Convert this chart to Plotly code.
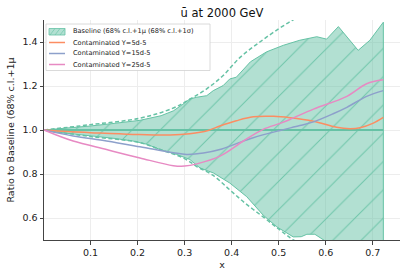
import plotly.graph_objects as go

# ---------------- data ----------------
band_upper_x = [0.001, 0.05, 0.099, 0.15, 0.205, 0.25, 0.276, 0.295, 0.311, 0.326, 0.347, 0.361,
                0.382, 0.396, 0.41, 0.44, 0.474, 0.51, 0.545, 0.581, 0.602, 0.627, 0.669, 0.694, 0.7226]
band_upper_y = [1.0, 1.008, 1.018, 1.03, 1.044, 1.065, 1.087, 1.115, 1.141, 1.149, 1.156, 1.179,
                1.202, 1.232, 1.24, 1.31, 1.355, 1.385, 1.408, 1.424, 1.413, 1.47, 1.362, 1.408, 1.49]
band_lower_x = [0.001, 0.05, 0.1, 0.15, 0.19, 0.22, 0.248, 0.283, 0.311, 0.333, 0.361, 0.396, 0.432,
                0.467, 0.496, 0.531, 0.548, 0.56, 0.577, 0.59, 0.61, 0.66, 0.7226]
band_lower_y = [1.0, 0.985, 0.972, 0.962, 0.95, 0.935, 0.911, 0.889, 0.866, 0.827, 0.805, 0.759, 0.697,
                0.613, 0.56, 0.514, 0.515, 0.526, 0.526, 0.506, 0.48, 0.46, 0.45]

sigma_upper_x = [0.001, 0.099, 0.205, 0.276, 0.311, 0.347, 0.382, 0.418, 0.46, 0.5, 0.53, 0.56]
sigma_upper_y = [1.0, 1.024, 1.054, 1.1, 1.14, 1.187, 1.248, 1.33, 1.40, 1.46, 1.5, 1.54]
sigma_lower_x = [0.001, 0.1, 0.2, 0.25, 0.3, 0.325, 0.36, 0.396, 0.43, 0.467, 0.5, 0.524, 0.54]
sigma_lower_y = [1.0, 0.97, 0.945, 0.91, 0.87, 0.835, 0.795, 0.728, 0.665, 0.605, 0.55, 0.511, 0.49]

ref_x = [0.001, 0.7226]
ref_y = [1.0, 1.0]

y5_x = [0.001, 0.05, 0.1, 0.19, 0.269, 0.311, 0.35, 0.375, 0.41, 0.446, 0.489, 0.524, 0.574,
        0.623, 0.652, 0.673, 0.7, 0.7226]
y5_y = [1.0, 0.993, 0.988, 0.98, 0.977, 0.983, 0.998, 1.018, 1.042, 1.06, 1.062, 1.056, 1.04,
        1.012, 1.006, 1.01, 1.03, 1.057]

y15_x = [0.001, 0.063, 0.134, 0.205, 0.276, 0.304, 0.34, 0.375, 0.41, 0.446, 0.503, 0.545, 0.574,
         0.617, 0.645, 0.687, 0.7226]
y15_y = [1.0, 0.973, 0.95, 0.924, 0.897, 0.889, 0.895, 0.911, 0.938, 0.965, 0.998, 1.02, 1.037,
         1.075, 1.103, 1.153, 1.179]

y25_x = [0.001, 0.03, 0.063, 0.134, 0.205, 0.276, 0.3, 0.326, 0.375, 0.425, 0.467, 0.503, 0.524,
         0.574, 0.645, 0.687, 0.7226]
y25_y = [1.0, 0.975, 0.95, 0.911, 0.873, 0.838, 0.836, 0.846, 0.881, 0.95, 1.003, 1.03, 1.048,
         1.095, 1.153, 1.21, 1.228]

legend_labels = ["Baseline (68% c.l.+1μ (68% c.l.+1σ)", "Contaminated Y=5d-5",
                 "Contaminated Y=15d-5", "Contaminated Y=25d-5"]
x_ticks = [0.1, 0.2, 0.3, 0.4, 0.5, 0.6, 0.7]
y_ticks = [0.6, 0.8, 1.0, 1.2, 1.4]

GREEN = "#66c2a5"
ORANGE = "#fc8d62"
BLUE = "#8da0cb"
PINK = "#e78ac3"
FONT = "DejaVu Sans"

FIG_W, FIG_H = 407, 277

fig = go.Figure()

# band polygon
fig.add_trace(go.Scatter(
    x=band_upper_x + band_lower_x[::-1],
    y=band_upper_y + band_lower_y[::-1],
    fill="toself", mode="lines",
    line=dict(color=GREEN, width=1),
    fillcolor="rgba(102,194,165,0.5)",
    fillpattern=dict(shape="/", fgcolor=GREEN, bgcolor="rgba(102,194,165,0.5)",
                     size=20, solidity=0.05, fgopacity=0.9),
    showlegend=False, hoverinfo="skip"))

fig.add_trace(go.Scatter(x=ref_x, y=ref_y, mode="lines",
                         line=dict(color=GREEN, width=2), showlegend=False))
for xs, ys in [(sigma_upper_x, sigma_upper_y), (sigma_lower_x, sigma_lower_y)]:
    fig.add_trace(go.Scatter(x=xs, y=ys, mode="lines",
                             line=dict(color=GREEN, width=1.5, dash="4px,2.5px", shape="spline"),
                             showlegend=False))

for xs, ys, c in [(y5_x, y5_y, ORANGE), (y15_x, y15_y, BLUE), (y25_x, y25_y, PINK)]:
    fig.add_trace(go.Scatter(x=xs, y=ys, mode="lines",
                             line=dict(color=c, width=1.5, shape="spline", smoothing=1.0),
                             showlegend=False))

# ---- custom compact legend (paper coords; screen pixel positions) ----
L, T, W, H = 44, 20, 356, 220
def px(p):
    return (p - L) / W
def py(p):
    return (T + H - p) / H

shapes = [dict(type="rect", xref="paper", yref="paper", x0=px(46), x1=px(210), y0=py(70.5), y1=py(24),
               line=dict(color="#d0d0d0", width=0.8), fillcolor="rgba(255,255,255,0.85)", layer="above")]
rows = [31.5, 42.5, 53.5, 64.5]
colors = [GREEN, ORANGE, BLUE, PINK]
shapes.append(dict(type="rect", xref="paper", yref="paper", x0=px(49), x1=px(65), y0=py(35), y1=py(28.5),
                   line=dict(color=GREEN, width=0.8), fillcolor="rgba(102,194,165,0.5)", layer="above"))
for k in range(3):
    shapes.append(dict(type="line", xref="paper", yref="paper", x0=px(50 + 5 * k), x1=px(55 + 5 * k),
                       y0=py(35), y1=py(28.5), line=dict(color=GREEN, width=0.6), layer="above"))
annotations = []
for i, (lab, r) in enumerate(zip(legend_labels, rows)):
    if i > 0:
        shapes.append(dict(type="line", xref="paper", yref="paper", x0=px(49), x1=px(65),
                           y0=py(r), y1=py(r), line=dict(color=colors[i], width=1.5), layer="above"))
    annotations.append(dict(text=lab, xref="paper", yref="paper", x=px(70.5), y=py(r),
                            xanchor="left", yanchor="middle", showarrow=False,
                            font=dict(family=FONT, size=6.6, color="#222")))

fig.update_layout(
    width=FIG_W, height=FIG_H,
    margin=dict(l=L, r=FIG_W - L - W, t=T, b=FIG_H - T - H),
    paper_bgcolor="white", plot_bgcolor="white",
    font=dict(family=FONT, size=9.5, color="#222"),
    title=dict(text="ū at 2000 GeV", x=(L + W / 2) / FIG_W, xanchor="center",
               y=1 - 12.5 / FIG_H, yanchor="middle", font=dict(size=11.5, color="#111")),
    shapes=shapes, annotations=annotations,
    showlegend=False,
)
fig.update_xaxes(range=[0.001, 0.758], tickvals=x_ticks, ticktext=[f"{v:.1f}" for v in x_ticks],
                 showline=True, linecolor="#444", linewidth=1, ticks="outside", ticklen=3.5,
                 tickcolor="#444", showgrid=True, gridcolor="#ededed", gridwidth=0.8, zeroline=False,
                 title=dict(text="x", font=dict(size=9.5), standoff=4))
fig.update_yaxes(range=[0.5, 1.5], tickvals=y_ticks, ticktext=[f"{v:.1f}" for v in y_ticks],
                 showline=True, linecolor="#444", linewidth=1, ticks="outside", ticklen=3.5,
                 tickcolor="#444", showgrid=True, gridcolor="#ededed", gridwidth=0.8, zeroline=False,
                 title=dict(text="Ratio to Baseline (68% c.l.+1μ", font=dict(size=9.5), standoff=6))

# remove the browser's default 8px page margin so the figure fills the window exactly
fig.write_html("out.html", config={"displayModeBar": False},
               post_script="document.body.style.margin='0px';")
